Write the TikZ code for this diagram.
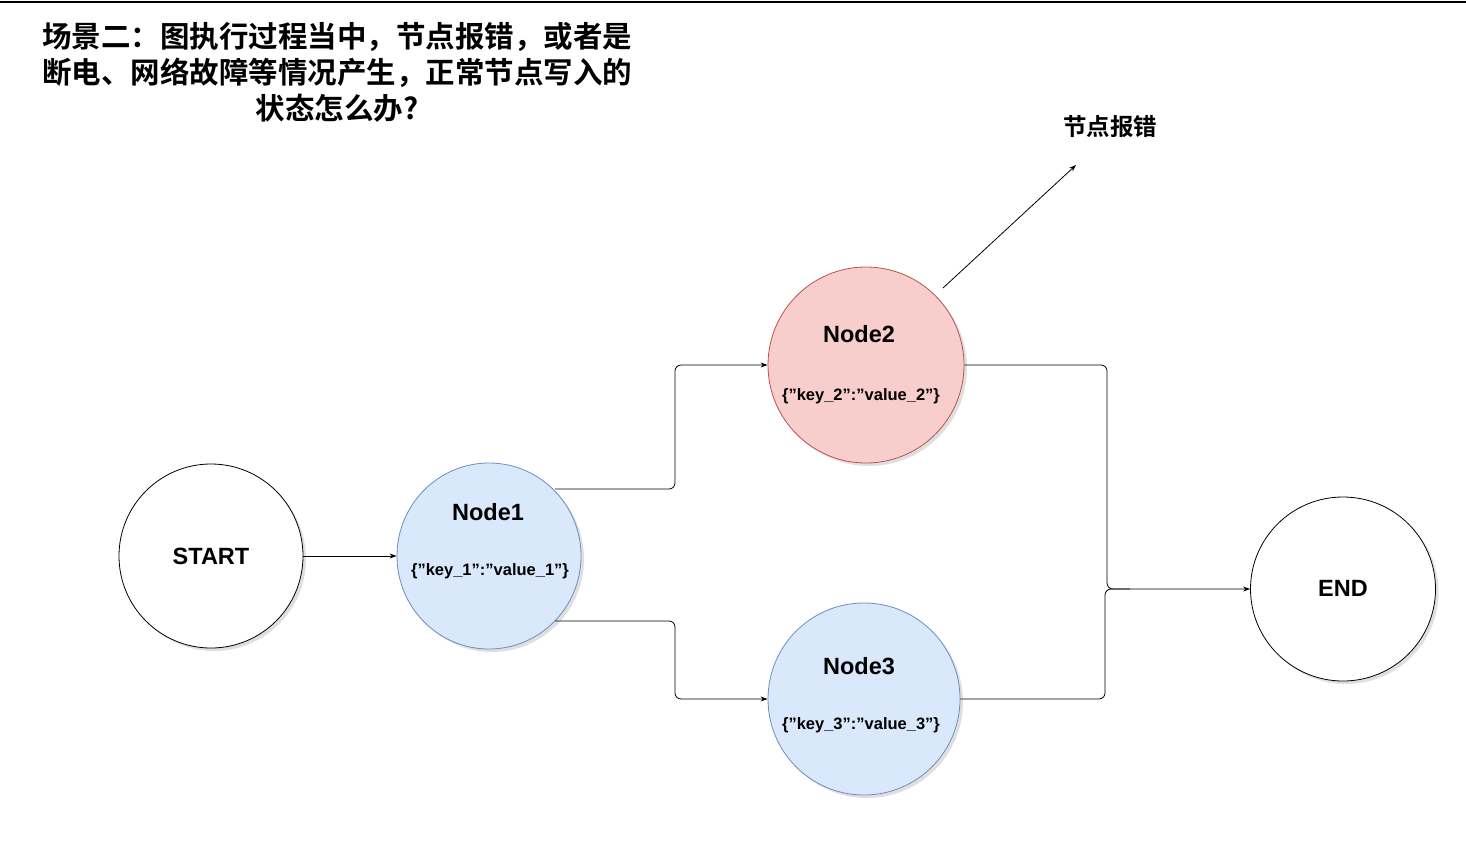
\documentclass[tikz,border=0pt]{standalone}
\usepackage{fontspec}
\setmainfont{Liberation Sans}
\newfontfamily\cjk{Noto Sans CJK SC}[BoldFont={Noto Sans CJK SC Bold}]
\usetikzlibrary{shapes.geometric,shadows,arrows.meta}
\definecolor{bluefill}{HTML}{DAE8FC}\definecolor{blueline}{HTML}{6C8EBF}
\definecolor{redfill}{HTML}{F8CECC}\definecolor{redline}{HTML}{B85450}
\newcommand{\qq}{\symbol{34}}
\begin{document}
\begin{tikzpicture}[x=1pt,y=-1pt,
  circ/.style={ellipse,draw,line width=0.8pt,inner sep=0pt,drop shadow={shadow xshift=3pt,shadow yshift=-3pt,opacity=0.25}},
  conn/.style={draw,line width=0.8pt,rounded corners=6pt},
  arr/.style={conn,-{Stealth[length=7pt,width=5pt]}},
  big/.style={font=\fontsize{23.5}{26}\selectfont\bfseries},
  small/.style={font=\fontsize{16.5}{19}\selectfont\bfseries}]
\useasboundingbox (0,0) rectangle (1466,862);
\draw[line width=2pt] (0,2) -- (1466,2);
\node[align=center,font=\cjk\fontsize{29.5}{36}\selectfont\bfseries] (title) at (337,72)
 {场景二：图执行过程当中，节点报错，或者是\\断电、网络故障等情况产生，正常节点写入的\\状态怎么办?};
\node[circ,fill=white,minimum width=184,minimum height=184] (start) at (211,556) {};
\node[big] (startt) at (211,556) {START};
\node[circ,fill=bluefill,draw=blueline,minimum width=184,minimum height=186] (n1) at (489,556) {};
\node[big] (n1t) at (488,512) {Node1};
\node[small] (n1k) at (490,571) {\{\qq key\_1\qq:\qq value\_1\qq\}};
\node[circ,fill=redfill,draw=redline,minimum width=196,minimum height=196] (n2) at (866,365) {};
\node[big] (n2t) at (859,334) {Node2};
\node[small] (n2k) at (861,396) {\{\qq key\_2\qq:\qq value\_2\qq\}};
\node[circ,fill=bluefill,draw=blueline,minimum width=192,minimum height=192] (n3) at (864,699) {};
\node[big] (n3t) at (859,666) {Node3};
\node[small] (n3k) at (861,725) {\{\qq key\_3\qq:\qq value\_3\qq\}};
\node[circ,fill=white,minimum width=185,minimum height=184] (end) at (1343,589) {};
\node[big] (endt) at (1343,588) {END};
\node[font=\cjk\fontsize{23.5}{26}\selectfont\bfseries] (err) at (1110,127) {节点报错};
\coordinate (e1) at (943,288);
\coordinate (e2) at (1076,165);
\draw[arr] (e1) -- (e2);
\draw[arr] (start.east) -- (n1.west);
\draw[arr] (555,489) -- (675,489) -- (675,365) -- (n2.west);
\draw[arr] (555,621) -- (675,621) -- (675,699) -- (n3.west);
\draw[arr] (n2.east) -- (1107,365) -- (1107,589) -- (end.west);
\draw[conn] (n3.east) -- (1105,699) -- (1105,589) -- (1130,589);
\end{tikzpicture}
\end{document}
